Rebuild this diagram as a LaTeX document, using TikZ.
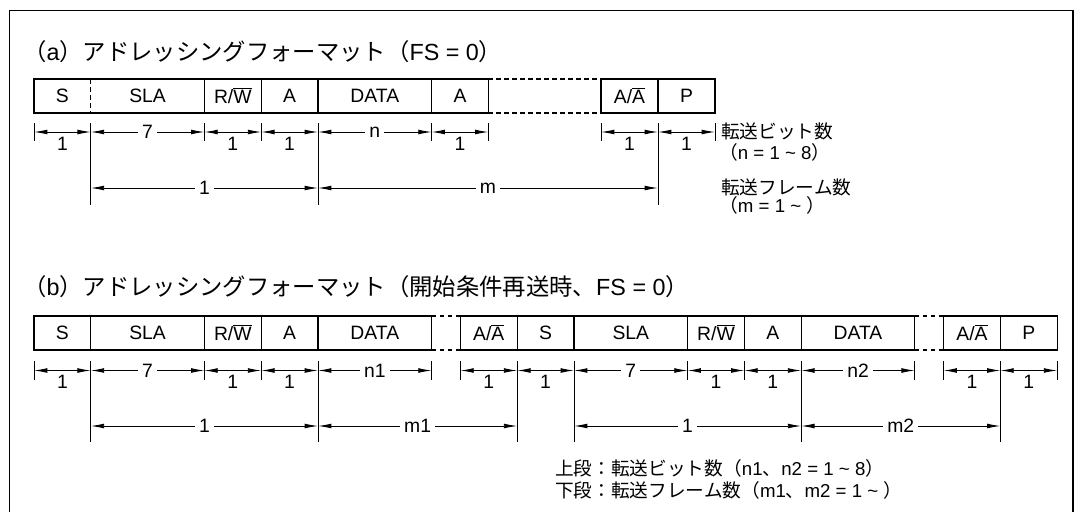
\documentclass[tikz,border=0pt]{standalone}
\usepackage{fontspec}
\setmainfont{Liberation Sans}
\newfontfamily\jp{Noto Sans CJK JP}
\newfontfamily\lt{Liberation Sans}
\usetikzlibrary{arrows.meta}
\newcommand\ovl[1]{$\overline{\mbox{#1}}$}
\begin{document}
\begin{tikzpicture}[x=0.75pt,y=-0.75pt,
  frame/.style={line width=1.1pt},
  boxline/.style={line width=0.9pt},
  dashline/.style={line width=0.9pt, dash pattern=on 3.5pt off 2.5pt},
  lbl/.style={font=\fontsize{14.5pt}{16pt}\selectfont, inner sep=0pt},
  dim/.style={line width=0.65pt, {Latex[length=10pt,width=3.6pt]}-{Latex[length=10pt,width=3.6pt]}},
  ext/.style={line width=0.6pt},
  under/.style={lbl, anchor=base},
  online/.style={lbl, fill=white, inner xsep=3pt, inner ysep=1pt},
  jptext/.style={font=\jp\fontsize{14pt}{16pt}\selectfont, inner sep=0pt, anchor=west},
  ttl/.style={font=\jp\fontsize{17.5pt}{20pt}\selectfont, inner sep=0pt, anchor=west}]
\useasboundingbox (0,0) rectangle (1078,511);
% frame
\draw[frame] (9.5,515) -- (9.5,10.5) -- (1073,10.5) -- (1073,515);

% ---------- (a) ----------
\node[ttl] (ta) at (23,52) {（{\lt a}）アドレッシングフォーマット（{\lt FS = 0}）};
\draw[boxline] (34,79) rectangle (488.4,113);
\foreach \x in {204.4,261.2,318,431.6} \draw[boxline] (\x,79) -- (\x,113);
\draw[dashline] (90.8,79) -- (90.8,113);
\draw[dashline] (488.4,79) -- (601,79);
\draw[dashline] (488.4,113) -- (601,113);
\draw[boxline] (601,79) rectangle (715,113);
\draw[boxline] (658,79) -- (658,113);
\node[lbl] (aS) at (62.4,96) {S};
\node[lbl] (aSLA) at (147.6,96) {SLA};
\node[lbl] (aRW) at (232.8,96) {R/\ovl{W}};
\node[lbl] (aA1) at (289.6,96) {A};
\node[lbl] (aDATA) at (374.8,96) {DATA};
\node[lbl] (aA2) at (460,96) {A};
\node[lbl] (aAA) at (629.5,96) {A/\ovl{A}};
\node[lbl] (aP) at (686.5,96) {P};

\foreach \n/\x in {0/34,1/90.8,2/204.4,3/261.2,4/318,5/431.6,6/488.4,7/601,8/658,9/715}{
  \coordinate (a\n) at (\x,132);
  \coordinate (am\n) at (\x,188);
}
\foreach \x in {34,204.4,261.2,431.6,488.4,601,715} \draw[ext] (\x,123) -- (\x,141);
\foreach \x in {90.8,318,658} \draw[ext] (\x,123) -- (\x,205);
\draw[dim] (a0) -- (a1) node[midway,yshift=-13.5pt,under] {1};
\draw[dim] (a1) -- (a2) node[midway,online] {7};
\draw[dim] (a2) -- (a3) node[midway,yshift=-13.5pt,under] {1};
\draw[dim] (a3) -- (a4) node[midway,yshift=-13.5pt,under] {1};
\draw[dim] (a4) -- (a5) node[midway,online] {n};
\draw[dim] (a5) -- (a6) node[midway,yshift=-13.5pt,under] {1};
\draw[dim] (a7) -- (a8) node[midway,yshift=-13.5pt,under] {1};
\draw[dim] (a8) -- (a9) node[midway,yshift=-13.5pt,under] {1};
\draw[dim] (am1) -- (am4) node[midway,online] {1};
\draw[dim] (am4) -- (am8) node[midway,online] {m};
\node[jptext] (abit) at (721,131) {転送ビット数};
\node[jptext] (abitn) at (719,152) {（{\lt n = 1 \textasciitilde{} 8}）};
\node[jptext] (afr) at (721,187) {転送フレーム数};
\node[jptext] (afrm) at (719,205) {（{\lt m = 1 \textasciitilde{}\ }）};

% ---------- (b) ----------
\node[ttl] (tb) at (23,287) {（{\lt b}）アドレッシングフォーマット（開始条件再送時、{\lt FS = 0}）};
\draw[boxline] (34,316) rectangle (431.6,350);
\foreach \x in {90.8,204.4,261.2,318} \draw[boxline] (\x,316) -- (\x,350);
\draw[dashline] (431.6,316) -- (460.4,316);
\draw[dashline] (431.6,350) -- (460.4,350);
\draw[boxline] (460.4,316) rectangle (914.8,350);
\foreach \x in {517.2,574,687.6,744.4,801.2} \draw[boxline] (\x,316) -- (\x,350);
\draw[dashline] (914.8,316) -- (943.6,316);
\draw[dashline] (914.8,350) -- (943.6,350);
\draw[boxline] (943.6,316) rectangle (1057.2,350);
\draw[boxline] (1000.4,316) -- (1000.4,350);
\node[lbl] (bS1) at (62.4,333) {S};
\node[lbl] (bSLA1) at (147.6,333) {SLA};
\node[lbl] (bRW1) at (232.8,333) {R/\ovl{W}};
\node[lbl] (bA1) at (289.6,333) {A};
\node[lbl] (bDATA1) at (374.8,333) {DATA};
\node[lbl] (bAA1) at (488.8,333) {A/\ovl{A}};
\node[lbl] (bS2) at (545.6,333) {S};
\node[lbl] (bSLA2) at (630.8,333) {SLA};
\node[lbl] (bRW2) at (716,333) {R/\ovl{W}};
\node[lbl] (bA2) at (772.8,333) {A};
\node[lbl] (bDATA2) at (858,333) {DATA};
\node[lbl] (bAA2) at (972,333) {A/\ovl{A}};
\node[lbl] (bP) at (1028.8,333) {P};

\foreach \n/\x in {0/34,1/90.8,2/204.4,3/261.2,4/318,5/431.6,6/460.4,7/517.2,8/574,9/687.6,10/744.4,11/801.2,12/914.8,13/943.6,14/1000.4,15/1057.2}{
  \coordinate (b\n) at (\x,370.5);
  \coordinate (bm\n) at (\x,426);
}
\foreach \x in {34,204.4,261.2,431.6,460.4,687.6,744.4,914.8,943.6,1057.2} \draw[ext] (\x,361) -- (\x,379.5);
\foreach \x in {90.8,318,517.2,574,801.2,1000.4} \draw[ext] (\x,361) -- (\x,442);
\draw[dim] (b0) -- (b1) node[midway,yshift=-13.5pt,under] {1};
\draw[dim] (b1) -- (b2) node[midway,online] {7};
\draw[dim] (b2) -- (b3) node[midway,yshift=-13.5pt,under] {1};
\draw[dim] (b3) -- (b4) node[midway,yshift=-13.5pt,under] {1};
\draw[dim] (b4) -- (b5) node[midway,online] {n1};
\draw[dim] (b6) -- (b7) node[midway,yshift=-13.5pt,under] {1};
\draw[dim] (b7) -- (b8) node[midway,yshift=-13.5pt,under] {1};
\draw[dim] (b8) -- (b9) node[midway,online] {7};
\draw[dim] (b9) -- (b10) node[midway,yshift=-13.5pt,under] {1};
\draw[dim] (b10) -- (b11) node[midway,yshift=-13.5pt,under] {1};
\draw[dim] (b11) -- (b12) node[midway,online] {n2};
\draw[dim] (b13) -- (b14) node[midway,yshift=-13.5pt,under] {1};
\draw[dim] (b14) -- (b15) node[midway,yshift=-13.5pt,under] {1};
\draw[dim] (bm1) -- (bm4) node[midway,online] {1};
\draw[dim] (bm4) -- (bm7) node[midway,online] {m1};
\draw[dim] (bm8) -- (bm11) node[midway,online] {1};
\draw[dim] (bm11) -- (bm14) node[midway,online] {m2};
\node[jptext] (nup) at (555,468) {上段：転送ビット数（{\lt n1}、{\lt n2 = 1 \textasciitilde{} 8}）};
\node[jptext] (nlo) at (555,490) {下段：転送フレーム数（{\lt m1}、{\lt m2 = 1 \textasciitilde{}\ }）};
\end{tikzpicture}
\end{document}
